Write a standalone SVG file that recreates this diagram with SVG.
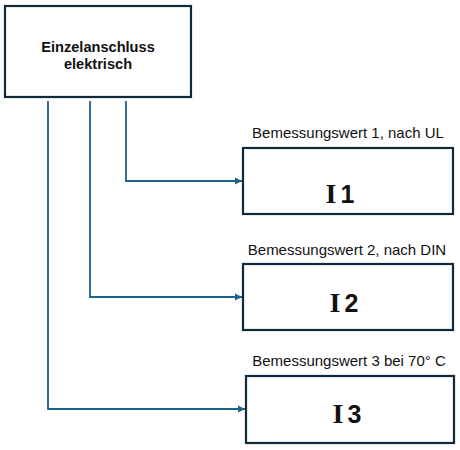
<svg xmlns="http://www.w3.org/2000/svg" width="460" height="450" viewBox="0 0 460 450">
<style>
.box{fill:#fff;stroke:#0f2a3a;stroke-width:2.2}
.con{fill:none;stroke:#1f6288;stroke-width:1.8}
.lbl{font-family:"Liberation Sans",Arial,sans-serif;font-size:15px;fill:#111;text-anchor:middle}
.title{font-family:"Liberation Sans",Arial,sans-serif;font-size:14.6px;font-weight:bold;fill:#111;text-anchor:middle}
.val{font-family:"Liberation Sans",Arial,sans-serif;font-size:25px;font-weight:bold;fill:#111;text-anchor:middle}
</style>
<defs>
<marker id="ah" viewBox="0 0 10 10" refX="10" refY="5" markerWidth="4" markerHeight="4" orient="auto" markerUnits="strokeWidth">
<path d="M0,0 L10,5 L0,10 z" fill="#1f6288"/>
</marker>
</defs>
<rect width="460" height="450" fill="#fff"/>
<g id="connectors">
<path class="con" d="M126,101 V181 H242" marker-end="url(#ah)"/>
<path class="con" d="M90,101 V297 H242" marker-end="url(#ah)"/>
<path class="con" d="M48,101 V409 H245" marker-end="url(#ah)"/>
</g>
<g id="source">
<rect class="box" x="5" y="6" width="186" height="91"/>
<text class="title" x="98" y="52">Einzelanschluss</text>
<text class="title" x="98" y="69">elektrisch</text>
</g>
<g id="i1">
<text class="lbl" x="348" y="138">Bemessungswert 1, nach UL</text>
<rect class="box" x="243" y="148" width="210" height="66"/>
<text class="val" x="340" y="203"><tspan font-family="Liberation Serif, Times New Roman, serif" font-size="28">I</tspan><tspan dx="4">1</tspan></text>
</g>
<g id="i2">
<text class="lbl" x="347" y="255">Bemessungswert 2, nach DIN</text>
<rect class="box" x="243" y="264" width="210" height="66"/>
<text class="val" x="344" y="312"><tspan font-family="Liberation Serif, Times New Roman, serif" font-size="28">I</tspan><tspan dx="4">2</tspan></text>
</g>
<g id="i3">
<text class="lbl" x="349" y="366">Bemessungswert 3 bei 70° C</text>
<rect class="box" x="246" y="376" width="208" height="67"/>
<text class="val" x="347" y="423"><tspan font-family="Liberation Serif, Times New Roman, serif" font-size="28">I</tspan><tspan dx="4">3</tspan></text>
</g>
</svg>
